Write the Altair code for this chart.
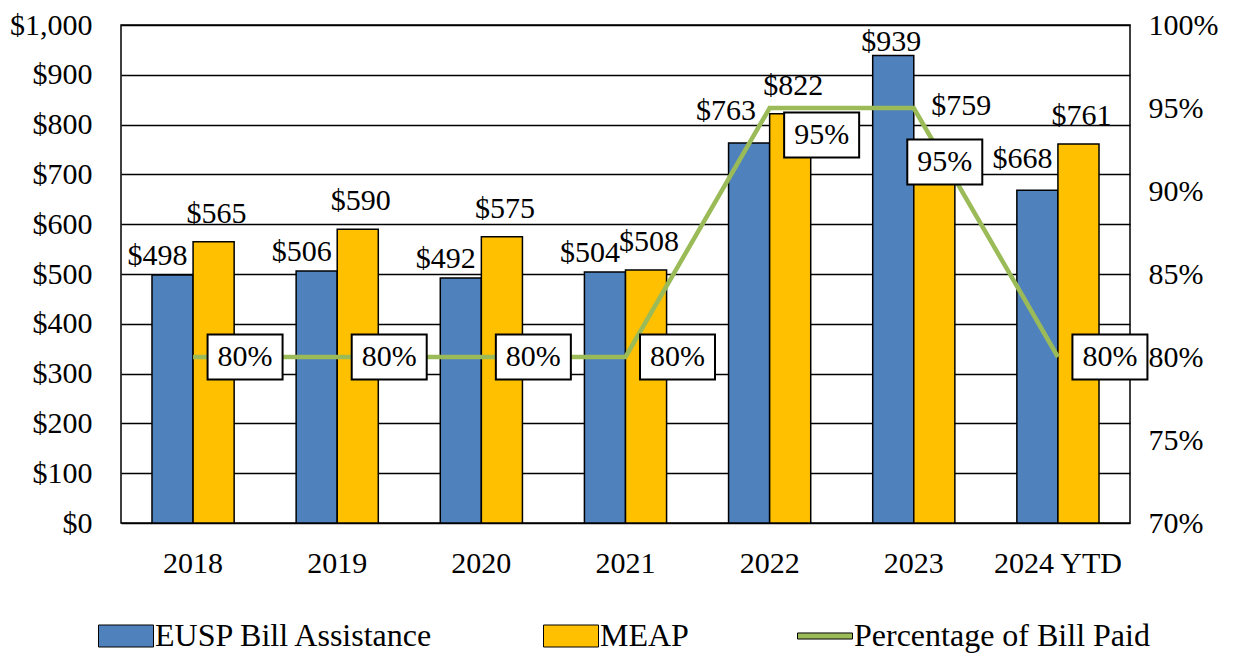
import altair as alt
import pandas as pd

# ---- data ----
years = ["2018", "2019", "2020", "2021", "2022", "2023", "2024 YTD"]
eusp = [498, 506, 492, 504, 763, 939, 668]
meap = [565, 590, 575, 508, 822, 759, 761]
pct_paid = [80, 80, 80, 80, 95, 95, 80]
series_names = ["EUSP Bill Assistance", "MEAP", "Percentage of Bill Paid"]
colors = ["#4F81BD", "#FFC000", "#9BBB59"]
money_ticks = [0, 100, 200, 300, 400, 500, 600, 700, 800, 900, 1000]
pct_ticks = [70, 75, 80, 85, 90, 95, 100]

bars_df = pd.DataFrame({
    "year": years * 2,
    "series": [series_names[0]] * len(years) + [series_names[1]] * len(years),
    "value": eusp + meap,
})
pct_df = pd.DataFrame({"year": years, "pct": pct_paid, "series": series_names[2]})
legend_df = pd.DataFrame({"series": series_names})

FONT = "Liberation Serif"
FS = 30

color_scale = alt.Scale(domain=series_names, range=colors)
x_axis = alt.Axis(title=None, labelFontSize=FS, labelFont=FONT, labelColor="black",
                  ticks=False, domain=False, labelPadding=25, labelAngle=0, grid=False)
x_enc = alt.X("year:N", sort=years,
              scale=alt.Scale(paddingInner=0.43, paddingOuter=0.215), axis=x_axis)
xoff_enc = alt.XOffset("series:N", scale=alt.Scale(domain=series_names[:2], paddingInner=0, paddingOuter=0))

left_axis = alt.Axis(title=None, orient="left", values=money_ticks, format="$,.0f",
                     labelFontSize=FS, labelFont=FONT, labelColor="black", ticks=False,
                     domain=False, labelPadding=29, grid=True, gridColor="black",
                     gridWidth=1.5, gridOpacity=1, minExtent=113, maxExtent=113)
y_left = alt.Y("value:Q", scale=alt.Scale(domain=[0, 1000], nice=False), axis=left_axis)

right_axis = alt.Axis(title=None, orient="right", values=pct_ticks,
                      labelExpr="datum.value + '%'", labelFontSize=FS, labelFont=FONT,
                      labelColor="black", ticks=False, domain=False, labelPadding=18, grid=False)
y_right = alt.Y("pct:Q", scale=alt.Scale(domain=[70, 100], nice=False), axis=right_axis)

RECT = "M-1,-0.4L1,-0.4L1,0.4L-1,0.4Z"
LINE = "M-1,-0.11L1,-0.11L1,0.11L-1,0.11Z"
legend = alt.Legend(title=None, orient="none", legendX=-23, legendY=583,
                    direction="horizontal", columns=3, columnPadding=106,
                    labelFont=FONT, labelFontSize=32, labelColor="black", labelLimit=500,
                    symbolSize=3025, symbolStrokeColor="black", symbolStrokeWidth=1,
                    labelOffset=1, padding=0, symbolOffset=0)

bars = alt.Chart(bars_df).mark_bar(stroke="black", strokeWidth=1.5).encode(
    x=x_enc, xOffset=xoff_enc, y=y_left,
    color=alt.Color("series:N", scale=color_scale, legend=legend),
)


def bar_labels(series, yrs, dx, dy):
    return alt.Chart(bars_df).transform_filter(
        alt.FieldEqualPredicate(field="series", equal=series)
    ).transform_filter(
        alt.FieldOneOfPredicate(field="year", oneOf=yrs)
    ).mark_text(dx=dx, dy=dy, baseline="alphabetic", align="center", font=FONT,
                fontSize=FS, color="black").encode(
        x=x_enc, xOffset=xoff_enc, y=y_left,
        text=alt.Text("value:Q", format="$,.0f"),
    )


left = alt.layer(
    bars,
    bar_labels(series_names[0], years[:4], -15, -10),
    bar_labels(series_names[0], ["2022"], -23, -23),
    bar_labels(series_names[0], ["2023"], -2, -4),
    bar_labels(series_names[0], ["2024 YTD"], -15, -22),
    bar_labels(series_names[1], years[:5] + ["2024 YTD"], 3, -19),
    bar_labels(series_names[1], ["2023"], 27, -30),
)

line = alt.Chart(pct_df).mark_line(color=colors[2], strokeWidth=4.5).encode(x=x_enc, y=y_right)

BOX = "M-1,-0.6L1,-0.6L1,0.6L-1,0.6Z"


def pct_box(yrs, dx, dy):
    base = alt.Chart(pct_df).transform_filter(alt.FieldOneOfPredicate(field="year", oneOf=yrs))
    box = base.mark_point(shape=BOX, size=5625, filled=True, fill="white", stroke="black",
                          strokeWidth=2, opacity=1, xOffset=dx, yOffset=dy).encode(x=x_enc, y=y_right)
    txt = base.transform_calculate(lbl="datum.pct + '%'").mark_text(
        dx=dx, dy=dy, baseline="middle", align="center", font=FONT, fontSize=FS,
        color="black").encode(x=x_enc, y=y_right, text="lbl:N")
    return box + txt


legend_layer = alt.Chart(legend_df).transform_filter("false").mark_point(
    filled=True, size=3025, opacity=1).encode(
    color=alt.Color("series:N", scale=color_scale, legend=legend),
    shape=alt.Shape("series:N", scale=alt.Scale(domain=series_names, range=[RECT, RECT, LINE]),
                    legend=legend),
)

right = alt.layer(
    line,
    pct_box(years[:4] + ["2024 YTD"], 52, 0),
    pct_box(["2022"], 52, 27),
    pct_box(["2023"], 31, 54),
    legend_layer,
)

chart = alt.layer(left, right).resolve_scale(y="independent").properties(
    width=1009, height=498, background="white",
    padding={"left": 0, "top": 2, "right": 5, "bottom": 60},
).configure_view(stroke="black", strokeWidth=1.5)

chart.save("out.html", embed_options={"renderer": "svg", "actions": False})
